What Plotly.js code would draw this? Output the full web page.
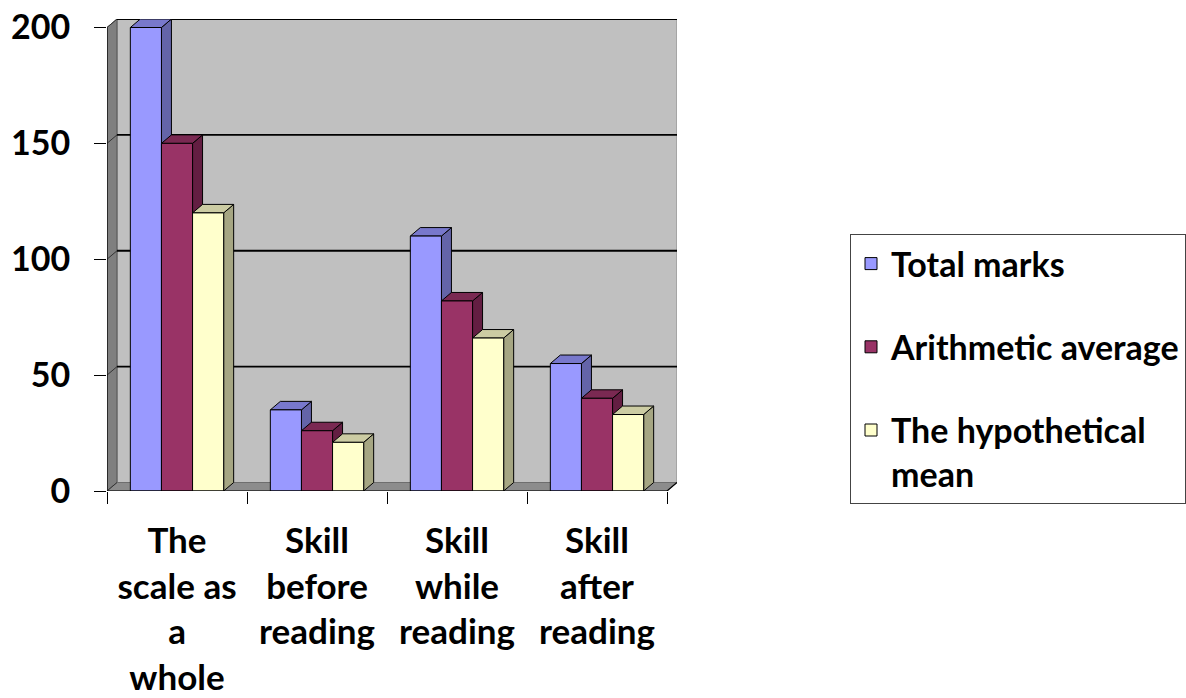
<!DOCTYPE html>
<html>
<head>
<meta charset="utf-8">
<script src="https://cdn.plot.ly/plotly-3.0.1.min.js"></script>
<style>html,body{margin:0;padding:0;background:#fff;}#chart{width:1186px;height:698px;}</style>
</head>
<body>
<div id="chart"></div>
<script>
// ---- data ----
const categories = ['The<br>scale as<br>a<br>whole', 'Skill<br>before<br>reading', 'Skill<br>while<br>reading', 'Skill<br>after<br>reading'];
const seriesNames = ['Total marks', 'Arithmetic average', 'The hypothetical<br>mean'];
const totalMarks = [200, 35, 110, 55];
const arithmeticAverage = [150, 26, 82, 40];
const hypotheticalMean = [120, 21, 66, 33];
const yTicks = [0, 50, 100, 150, 200];

// ---- style ----
const W = 1186, H = 698;
const margin = {l: 107, r: 509, t: 19, b: 207, autoexpand: false};
const depthPx = {x: 10, y: 8.5};
const frontColors = ['#9999FF', '#993366', '#FFFFCC'];
const topColors = ['#7878CC', '#7A2952', '#CCCCA3'];
const sideColors = ['#6464A8', '#631E42', '#A6A683'];
const FONT = 'Lato, "Open Sans", sans-serif';
const bargap = 1 / 3;

const series = [totalMarks, arithmeticAverage, hypotheticalMean];
const nCat = categories.length;
const yMax = yTicks[yTicks.length - 1];
const plotW = W - margin.l - margin.r;
const plotH = H - margin.t - margin.b;
const dx = depthPx.x * nCat / (plotW - depthPx.x);
const dy = depthPx.y * yMax / (plotH - depthPx.y);
const xL = -0.5, xR = nCat - 0.5;

const shapes = [];
function poly(pts, fill, layer, lineColor, lw) {
  const p = pts.map((q, i) => (i ? 'L' : 'M') + q[0] + ',' + q[1]).join(' ') + ' Z';
  shapes.push({type: 'path', xref: 'x', yref: 'y', path: p, fillcolor: fill,
    line: {color: lineColor || 'rgba(0,0,0,0)', width: lw === undefined ? 1 : lw}, layer: layer || 'below'});
}
function seg(x0, y0, x1, y1, color, w, layer) {
  shapes.push({type: 'line', xref: 'x', yref: 'y', x0, y0, x1, y1,
    line: {color, width: w}, layer: layer || 'below'});
}

// walls & floor
poly([[xL + dx, dy], [xR + dx, dy], [xR + dx, yMax + dy], [xL + dx, yMax + dy]], '#C0C0C0', 'below', '#8A8A8A', 1);
poly([[xL, 0], [xL + dx, dy], [xL + dx, yMax + dy], [xL, yMax]], '#7F7F7F', 'below', '#555555', 1);
poly([[xL, 0], [xR, 0], [xR + dx, dy], [xL + dx, dy]], '#8C8C8C', 'below', '#6E6E6E', 1);
// gridlines on back wall and side wall
yTicks.forEach(v => {
  if (v > 0) seg(xL + dx, v + dy, xR + dx, v + dy, '#000000', 1.8);
  seg(xL, v, xL + dx, v + dy, '#333333', 1);
});

// 3D faces of bars
const gw = 1 - bargap, bw = gw / series.length;
for (let i = 0; i < nCat; i++) {
  series.forEach((s, j) => {
    const v = s[i];
    const x0 = i - gw / 2 + j * bw, x1 = x0 + bw;
    poly([[x1, 0], [x1, v], [x1 + dx, v + dy], [x1 + dx, dy]], sideColors[j], 'below', '#000000', 1);
    poly([[x0, v], [x1, v], [x1 + dx, v + dy], [x0 + dx, v + dy]], topColors[j], 'below', '#000000', 1);
  });
}
// front axis lines
seg(xL, 0, xL, yMax, '#000000', 1.2, 'above');
seg(xL, 0, xR, 0, '#000000', 1.2, 'above');
seg(xR, 0, xR + dx, dy, '#000000', 1.2, 'above');

const traces = series.map((s, j) => ({
  type: 'bar', x: categories, y: s, name: seriesNames[j], legendgroup: 'g' + j,
  marker: {color: frontColors[j], line: {color: '#000000', width: 1}},
  hoverinfo: 'x+y'
}));

const layout = {
  width: W, height: H, margin,
  paper_bgcolor: '#FFFFFF', plot_bgcolor: 'rgba(0,0,0,0)',
  barmode: 'group', bargap: bargap, bargroupgap: 0,
  font: {family: FONT, color: '#000000'},
  xaxis: {
    type: 'category', range: [xL, xR + dx], tickson: 'boundaries',
    ticks: 'outside', ticklen: 12, tickwidth: 1, tickcolor: '#000000',
    showgrid: false, showline: false, zeroline: false, fixedrange: true,
    tickfont: {family: FONT, size: 35, weight: 'bold', color: '#000000'},
    ticklabelstandoff: 26
  },
  yaxis: {
    range: [0, yMax + dy], tickmode: 'array', tickvals: yTicks, ticktext: yTicks.map(String),
    ticks: 'outside', ticklen: 12, tickwidth: 1, tickcolor: '#000000',
    showgrid: false, showline: false, zeroline: false, fixedrange: true,
    tickfont: {family: FONT, size: 34, weight: 'bold', color: '#000000'},
    ticklabelstandoff: 17
  },
  legend: {
    x: (850 - margin.l) / plotW, y: (H - margin.b - 234) / plotH, xanchor: 'left', yanchor: 'top',
    bgcolor: '#FFFFFF', bordercolor: '#444444', borderwidth: 1,
    font: {family: FONT, size: 34, weight: 'bold', color: '#000000'},
    valign: 'top', tracegroupgap: 36, traceorder: 'grouped'
  },
  shapes: shapes,
  showlegend: true
};

Plotly.newPlot('chart', traces, layout, {displayModeBar: false, staticPlot: true});
</script>
</body>
</html>
